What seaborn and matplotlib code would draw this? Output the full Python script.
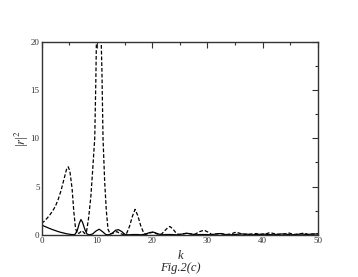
import matplotlib
matplotlib.use("Agg")
import matplotlib.pyplot as plt
import seaborn as sns
import pandas as pd
from matplotlib.ticker import MultipleLocator

# dashed curve (k, |r|^2)
k_dash = [0, 0.5, 1, 1.5, 2, 2.5, 3, 3.5, 4, 4.5, 4.8, 5.1, 5.5, 5.8, 6.1, 6.4, 6.8, 7.3, 7.8, 8.1,
          8.5, 8.9, 9.2, 9.6, 9.8, 10.0, 10.3, 10.6, 10.9, 11.1, 11.4, 11.7, 12.0, 12.4, 13.0, 13.6,
          14.2, 14.8, 15.4, 15.9, 16.4, 16.9, 17.4, 17.9, 18.4, 18.8, 19.5, 20.2, 20.9, 21.7, 22.3,
          22.8, 23.2, 23.7, 24.2, 24.8, 25.5, 26.3, 27.0, 27.8, 28.6, 29.4, 30.1, 30.8, 31.5, 32.5,
          33.3, 34.2, 35.2, 36.0, 36.8, 37.8, 38.8, 39.6, 40.5, 41.3, 42.0, 42.8, 43.8, 44.8, 45.6,
          46.5, 47.5, 48.3, 49.2, 50]
r_dash = [1.2, 1.45, 1.75, 2.1, 2.5, 3.0, 3.7, 4.6, 5.7, 6.8, 7.05, 6.6, 4.8, 2.5, 0.8, 0.15, 0.2,
          0.45, 0.15, 0.3, 1.8, 4.0, 6.5, 10, 16, 24, 30, 24, 17, 10, 5.5, 2.5, 0.6, 0.1, 0.2, 0.35,
          0.15, 0.05, 0.2, 0.9, 1.9, 2.65, 2.0, 1.0, 0.3, 0.05, 0.2, 0.3, 0.1, 0.1, 0.45, 0.75, 0.88,
          0.65, 0.3, 0.05, 0.1, 0.2, 0.1, 0.1, 0.35, 0.5, 0.3, 0.05, 0.1, 0.15, 0.05, 0.1, 0.3, 0.15,
          0.05, 0.1, 0.15, 0.05, 0.1, 0.25, 0.15, 0.05, 0.1, 0.2, 0.05, 0.1, 0.2, 0.05, 0.1, 0.15]

# solid curve (k, |r|^2)
k_solid = [0, 0.5, 1, 1.5, 2, 2.5, 3, 3.5, 4, 4.5, 5, 5.5, 6.0, 6.4, 6.8, 7.1, 7.4, 7.8, 8.2, 8.6,
           9.2, 9.8, 10.4, 11.0, 11.6, 12.2, 12.8, 13.4, 13.9, 14.5, 15.1, 15.7, 16.5, 17.3, 18.0,
           18.8, 19.5, 20.2, 20.9, 21.6, 22.5, 23.5, 24.5, 25.5, 26.3, 27.1, 27.9, 28.8, 29.7, 30.6,
           31.5, 32.3, 33.1, 34, 35, 36, 37, 38, 39, 40, 41, 42, 43, 44, 45, 46, 47, 48, 49, 50]
r_solid = [1.05, 0.9, 0.78, 0.66, 0.55, 0.45, 0.35, 0.27, 0.2, 0.13, 0.08, 0.04, 0.05, 0.4, 1.2,
           1.6, 1.3, 0.6, 0.1, 0.02, 0.1, 0.4, 0.6, 0.35, 0.05, 0.02, 0.2, 0.5, 0.55, 0.35, 0.05,
           0.02, 0.05, 0.05, 0.02, 0.1, 0.25, 0.3, 0.15, 0.02, 0.05, 0.05, 0.02, 0.1, 0.18, 0.1,
           0.02, 0.05, 0.05, 0.02, 0.1, 0.15, 0.05, 0.02, 0.05, 0.1, 0.1, 0.02, 0.05, 0.1, 0.05,
           0.02, 0.1, 0.1, 0.02, 0.05, 0.1, 0.05, 0.1, 0.1]

x_ticks = [0, 10, 20, 30, 40, 50]
y_ticks = [0, 5, 10, 15, 20]

sns.set_style("white")
plt.rcParams['font.family'] = ['Liberation Serif', 'DejaVu Serif']
plt.rcParams['mathtext.fontset'] = 'stix'

fig = plt.figure(figsize=(3.58, 2.77), dpi=100)
ax = fig.add_axes([0.1165, 0.1516, 0.7715, 0.6984])

df_d = pd.DataFrame({"k": k_dash, "r": r_dash})
df_s = pd.DataFrame({"k": k_solid, "r": r_solid})
sns.lineplot(data=df_s, x="k", y="r", ax=ax, color="black", lw=0.9, estimator=None)
sns.lineplot(data=df_d, x="k", y="r", ax=ax, color="black", lw=0.9, estimator=None,
             linestyle=(0, (3.0, 1.6)))

ax.set_xlim(0, 50)
ax.set_ylim(0, 20)
ax.set_xticks(x_ticks)
ax.set_yticks(y_ticks)
ax.xaxis.set_minor_locator(MultipleLocator(5))
ax.yaxis.set_minor_locator(MultipleLocator(2.5))
ax.tick_params(which='both', direction='in', top=True, right=True, colors='#333333',
               labelsize=6.5, pad=1.5)
ax.tick_params(which='major', length=4, width=0.8)
ax.tick_params(which='minor', length=2.5, width=0.8)
for s in ax.spines.values():
    s.set_color('#333333')
    s.set_linewidth(1.0)

ax.set_xlabel("")
ax.set_ylabel("")
fig.text(0.503, 0.075, "k", ha='center', va='center', fontsize=9, style='italic')
fig.text(0.503, 0.032, "Fig.2(c)", ha='center', va='center', fontsize=9, style='italic')
fig.text(0.06, 0.5, r"|$r$|$^2$", ha='center', va='center', fontsize=9, rotation=90)

fig.savefig("out.png", dpi=100)
